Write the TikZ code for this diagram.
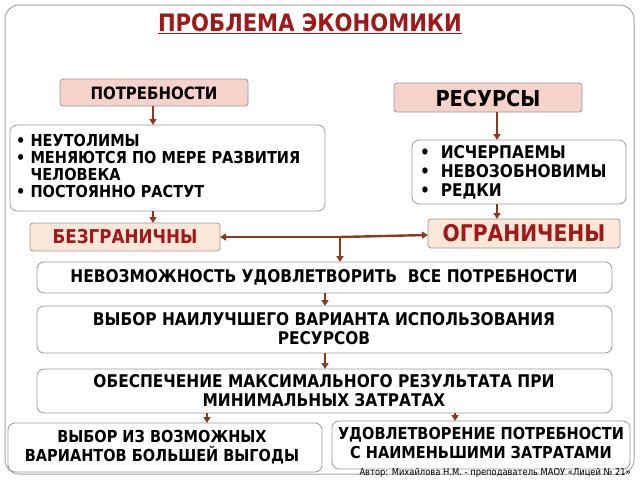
\documentclass[tikz,border=0pt]{standalone}
\usepackage{fontspec}
\setmainfont{DejaVu Sans}[FakeStretch=0.88]
\usetikzlibrary{arrows.meta}
\definecolor{arr}{HTML}{8B3A22}
\definecolor{pinkf}{HTML}{F6D2CA}
\definecolor{beigef}{HTML}{FBE7D8}
\definecolor{dred}{HTML}{A01818}
\begin{document}
\begin{tikzpicture}[x=1pt,y=-1pt,
 box/.style={draw=gray!80,rounded corners=7pt,fill=white,line width=0.8pt},
 hd/.style={box,fill=pinkf,rounded corners=3pt},
 lim/.style={box,fill=beigef,rounded corners=3pt},
 ar/.style={draw=arr,line width=2.4pt,-{Triangle[length=6pt,width=7pt]}},
 txt/.style={font=\bfseries\fontsize{17.5}{19}\selectfont,align=center}]
\useasboundingbox (0,0) rectangle (640,480);
\draw[draw=gray!70,line width=1pt,rounded corners=14pt] (5,5) rectangle (634,474);
\node[font=\bfseries\fontsize{24}{26}\selectfont,text=dred] (t) at (310,24) {\underline{ПРОБЛЕМА ЭКОНОМИКИ}};
\draw[hd] (60,79) rectangle (248,106); \node[txt,font=\bfseries\fontsize{17}{18}\selectfont] (p) at (154,93) {ПОТРЕБНОСТИ};
\draw[hd] (394,83) rectangle (582,112); \node[txt,font=\bfseries\fontsize{22}{23}\selectfont] (r) at (488,98) {РЕСУРСЫ};
\draw[box] (10,125) rectangle (325,211);
\node[font=\bfseries\fontsize{16.5}{17}\selectfont,align=left,anchor=north west,inner sep=0pt] (lb) at (16,134) {•\ НЕУТОЛИМЫ\\•\ МЕНЯЮТСЯ ПО МЕРЕ РАЗВИТИЯ\\\phantom{•\ }ЧЕЛОВЕКА\\•\ ПОСТОЯННО РАСТУТ};
\draw[box] (412,140) rectangle (626,204);
\node[font=\bfseries\fontsize{17.5}{19}\selectfont,align=left,anchor=north west,inner sep=0pt] (rb) at (420,145) {•\ \ ИСЧЕРПАЕМЫ\\•\ \ НЕВОЗОБНОВИМЫ\\•\ \ РЕДКИ};
\draw[lim] (30,223) rectangle (220,251); \node[txt,text=dred,font=\bfseries\fontsize{19}{20}\selectfont] (b) at (125,237) {БЕЗГРАНИЧНЫ};
\draw[lim] (428,219) rectangle (620,248); \node[txt,text=dred,font=\bfseries\fontsize{23}{24}\selectfont] (o) at (524,233) {ОГРАНИЧЕНЫ};
\draw[box] (37,262) rectangle (612,293); \node[txt] (n) at (324,277) {НЕВОЗМОЖНОСТЬ УДОВЛЕТВОРИТЬ \ ВСЕ ПОТРЕБНОСТИ};
\draw[box] (37,306) rectangle (612,353); \node[txt] (v) at (324,329) {ВЫБОР НАИЛУЧШЕГО ВАРИАНТА ИСПОЛЬЗОВАНИЯ\\РЕСУРСОВ};
\draw[box] (37,369) rectangle (612,413); \node[txt] (e) at (324,391) {ОБЕСПЕЧЕНИЕ МАКСИМАЛЬНОГО РЕЗУЛЬТАТА ПРИ\\МИНИМАЛЬНЫХ ЗАТРАТАХ};
\draw[box] (8,423) rectangle (322,472); \node[txt,font=\bfseries\fontsize{16.5}{18.5}\selectfont] (bl) at (162,447) {ВЫБОР ИЗ ВОЗМОЖНЫХ\\ВАРИАНТОВ БОЛЬШЕЙ ВЫГОДЫ};
\draw[box] (332,421) rectangle (630,469); \node[txt,font=\bfseries\fontsize{16.5}{18.5}\selectfont] (br) at (481,443) {УДОВЛЕТВОРЕНИЕ ПОТРЕБНОСТИ\\С НАИМЕНЬШИМИ ЗАТРАТАМИ};
\node[font=\fontsize{9.5}{10}\selectfont,anchor=south east,inner sep=1pt] (au) at (632,479) {Автор: Михайлова Н.М. - преподаватель МАОУ «Лицей № 21»};
\coordinate (a1) at (153,106); \coordinate (a2) at (153,125);
\draw[ar] (a1) -- (a2);
\coordinate (b1) at (497,112); \coordinate (b2) at (497,140); \draw[ar] (b1) -- (b2);
\coordinate (c1) at (153,211); \coordinate (c2) at (153,223); \draw[ar] (c1) -- (c2);
\coordinate (d1) at (497,204); \coordinate (d2) at (497,219); \draw[ar] (d1) -- (d2);
\coordinate (m) at (340,237); \coordinate (ml) at (220,237); \coordinate (mr) at (428,235);
\draw[ar] (m) -- (ml); \draw[ar] (m) -- (mr);
\coordinate (m2) at (340,262); \draw[ar] (m) -- (m2);
\coordinate (e1) at (325,293); \coordinate (e2) at (325,306); \draw[ar] (e1) -- (e2);
\coordinate (f1) at (325,353); \coordinate (f2) at (325,369); \draw[ar] (f1) -- (f2);
\coordinate (g1) at (207,413); \coordinate (g2) at (207,423); \draw[ar] (g1) -- (g2);
\coordinate (h1) at (455,413); \coordinate (h2) at (455,421); \draw[ar] (h1) -- (h2);
\end{tikzpicture}
\end{document}
